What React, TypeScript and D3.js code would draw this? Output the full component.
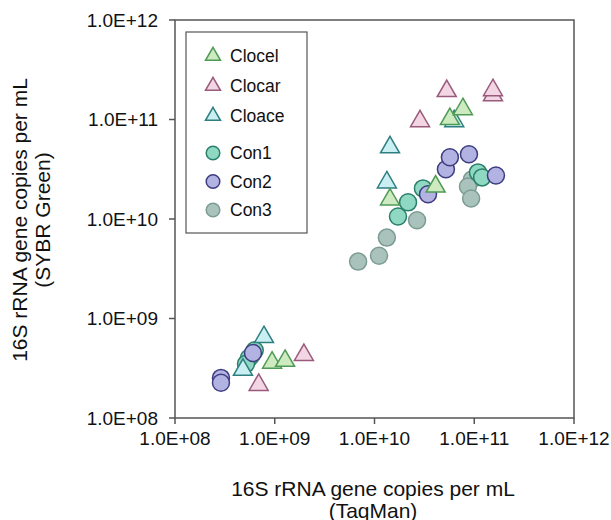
import React from "react";
import * as d3 from "d3";

const seriesNames = ["Clocel", "Clocar", "Cloace", "Con1", "Con2", "Con3"];
const seriesShapes = ["triangle", "triangle", "triangle", "circle", "circle", "circle"];
const seriesFill = ["#cdeac0", "#f2d6e4", "#c9eff3", "#8fd8c2", "#b3b3e3", "#a9c3bc"];
const seriesStroke = ["#4f9a55", "#9a5a7c", "#2e7f80", "#2b7f6c", "#3d3d80", "#7c9c93"];

// [TaqMan, SYBR Green] pairs
const clocel = [[9.4e8, 3.6e8], [1.27e9, 3.75e8], [1.43e10, 1.57e10], [4.1e10, 2.12e10], [5.7e10, 1.01e11], [7.7e10, 1.27e11]];
const clocar = [[1.96e9, 4.3e8], [6.9e8, 2.15e8], [2.86e10, 9.6e10], [5.3e10, 1.93e11], [1.54e11, 1.75e11], [1.54e11, 1.97e11]];
const cloace = [[7.8e8, 6.5e8], [4.8e8, 3.05e8], [1.43e10, 5.25e10], [1.33e10, 2.33e10], [6.3e10, 9.6e10]];
const con1 = [[6.3e8, 4.8e8], [5.5e8, 4.0e8], [5.15e8, 3.5e8], [1.72e10, 1.06e10], [2.17e10, 1.47e10], [3.06e10, 2.03e10], [1.09e11, 2.94e10], [1.2e11, 2.62e10]];
const con2 = [[2.89e8, 2.53e8], [2.89e8, 2.26e8], [3.44e10, 1.77e10], [5.2e10, 3.16e10], [5.7e10, 4.17e10], [8.85e10, 4.47e10], [1.65e11, 2.74e10], [6.05e8, 4.5e8]];
const con3 = [[5.8e8, 4.2e8], [6.85e9, 3.73e9], [1.11e10, 4.28e9], [1.33e10, 6.5e9], [2.67e10, 9.7e9], [9.5e10, 2.5e10], [8.65e10, 2.12e10], [9.3e10, 1.61e10]];

const seriesData = [clocel, clocar, cloace, con1, con2, con3];
const drawOrder = [5, 3, 4, 2, 0, 1];

const tickValues = [1e8, 1e9, 1e10, 1e11, 1e12];
const tickLabels = ["1.0E+08", "1.0E+09", "1.0E+10", "1.0E+11", "1.0E+12"];

const xTitle = ["16S rRNA gene copies per mL", "(TaqMan)"];
const yTitle = ["16S rRNA gene copies per mL", "(SYBR Green)"];

const font = "Liberation Sans, Arial, sans-serif";

function Marker({ shape, cx, cy, fill, stroke, size }: any) {
  if (shape === "circle") {
    return <circle cx={cx} cy={cy} r={size} fill={fill} stroke={stroke} strokeWidth={1.5} />;
  }
  const s = size; // side length
  const h = (s * Math.sqrt(3)) / 2;
  const line = d3.line();
  const d = line([[cx, cy - (2 * h) / 3], [cx + s / 2, cy + h / 3], [cx - s / 2, cy + h / 3]]) + "Z";
  return <path d={d} fill={fill} stroke={stroke} strokeWidth={1.5} strokeLinejoin="miter" />;
}

export default function App() {
  const W = 611, H = 520;
  const left = 175, right = 574, top = 20, bottom = 418;
  const x = d3.scaleLog().domain([1e8, 1e12]).range([left, right]);
  const y = d3.scaleLog().domain([1e8, 1e12]).range([bottom, top]);
  const axisColor = "#555";

  const legendItems = seriesNames.map((n, i) => ({
    name: n, i, yy: i < 3 ? 56 + i * 30 : 153 + (i - 3) * 28.5,
  }));

  return (
    <svg width={W} height={H} style={{ position: "absolute", left: 0, top: 0, background: "#fff" }} fontFamily={font}>
      <rect x={0} y={0} width={W} height={H} fill="#fff" />
      {/* frame */}
      <rect x={left} y={top} width={right - left} height={bottom - top} fill="none" stroke={axisColor} strokeWidth={1.5} />
      {/* y ticks */}
      {tickValues.map((v, i) => (
        <g key={"y" + i}>
          <line x1={left - 6} x2={left} y1={y(v)} y2={y(v)} stroke={axisColor} strokeWidth={1.5} />
          <text x={158} y={y(v)} dy="0.35em" textAnchor="end" fontSize={19} fill="#111">{tickLabels[i]}</text>
        </g>
      ))}
      {/* x ticks */}
      {tickValues.map((v, i) => (
        <g key={"x" + i}>
          <line x1={x(v)} x2={x(v)} y1={bottom} y2={bottom + 6} stroke={axisColor} strokeWidth={1.5} />
          <text x={x(v)} y={445} textAnchor="middle" fontSize={19} fill="#111">{tickLabels[i]}</text>
        </g>
      ))}
      {/* titles */}
      <text x={373} y={496} textAnchor="middle" fontSize={21} fill="#111">{xTitle[0]}</text>
      <text x={373} y={518} textAnchor="middle" fontSize={21} fill="#111">{xTitle[1]}</text>
      <g transform="translate(27,220) rotate(-90)">
        <text x={0} y={0} textAnchor="middle" fontSize={21} fill="#111">{yTitle[0]}</text>
        <text x={0} y={23} textAnchor="middle" fontSize={21} fill="#111">{yTitle[1]}</text>
      </g>
      {/* points */}
      {drawOrder.map((si) => (
        <g key={"s" + si}>
          {seriesData[si].map((d, j) => (
            <Marker key={j} shape={seriesShapes[si]} cx={x(d[0])} cy={y(d[1])} fill={seriesFill[si]} stroke={seriesStroke[si]}
              size={seriesShapes[si] === "circle" ? 8.5 : 19} />
          ))}
        </g>
      ))}
      {/* legend */}
      <rect x={186} y={32} width={121} height={201} fill="#fff" stroke={axisColor} strokeWidth={1.2} />
      {legendItems.map((it) => (
        <g key={it.name}>
          <Marker shape={seriesShapes[it.i]} cx={213} cy={it.yy} fill={seriesFill[it.i]} stroke={seriesStroke[it.i]}
            size={seriesShapes[it.i] === "circle" ? 6.8 : 15} />
          <text x={230} y={it.yy} dy="0.35em" fontSize={17.5} fill="#111">{it.name}</text>
        </g>
      ))}
    </svg>
  );
}
